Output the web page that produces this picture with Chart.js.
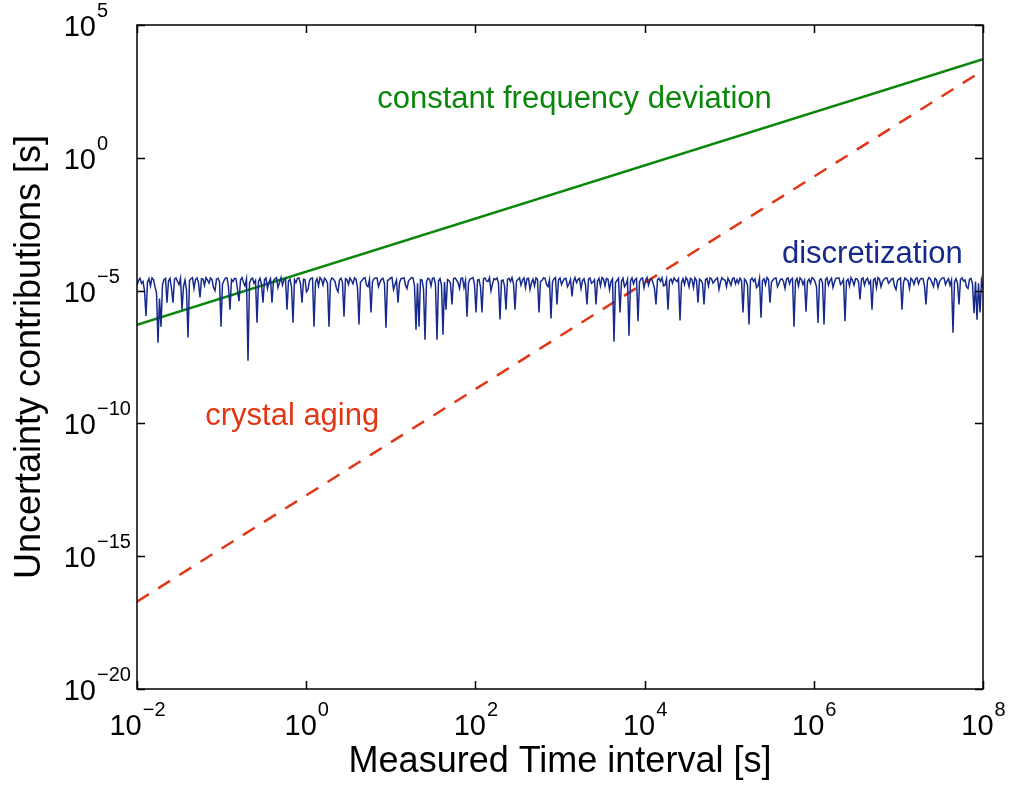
<!DOCTYPE html>
<html>
<head>
<meta charset="utf-8">
<script src="https://cdn.jsdelivr.net/npm/chart.js@4.4.0/dist/chart.umd.min.js"></script>
<style>
  html, body { margin: 0; padding: 0; background: #fff; }
</style>
</head>
<body>
<canvas id="chart" width="1010" height="787"></canvas>
<script>
// axis ranges and tick exponents
const xRange = [1e-2, 1e8];
const yRange = [1e-20, 1e5];
const xTickExps = [-2, 0, 2, 4, 6, 8];
const yTickExps = [-20, -15, -10, -5, 0, 5];

// constant frequency deviation (slope 1 in log-log)
const freqDevX = [1e-2, 1e8];
const freqDevY = [5.2e-7, 5.2e3];

// crystal aging (slope 2 in log-log)
const agingX = [1e-2, 1e8];
const agingY = [1.95e-17, 1.95e3];

// discretization error in units of 1e-5 s, samples evenly spaced in log(time)
const discUnit = 1e-5;
const discretization = [
  1.6, 2.4, 2.9, 1.9, 2.2, 1.0, 0.11, 2.1, 2.8, 1.5, 3.0, 2.6, 1.4, 0.8, 0.011, 0.5, 0.044, 1.7, 2.6, 2.9,
  0.35, 2.3, 2.9, 1.2, 0.35, 2.7, 3.0, 2.2, 1.7, 2.9, 0.19, 1.4, 2.5, 1.1, 0.017, 2.4, 2.8, 3.1, 1.2, 2.6,
  3.0, 2.0, 0.55, 2.8, 2.7, 1.6, 3.1, 2.5, 1.9, 3.0, 2.6, 1.3, 1.0, 2.7, 2.9, 2.2, 0.044, 1.8, 2.4, 3.0,
  3.0, 1.4, 0.19, 2.6, 2.2, 2.9, 2.8, 1.1, 0.4, 2.5, 3.1, 2.0, 1.5, 2.7, 0.0023, 1.9, 2.7, 3.0, 1.9, 2.4,
  0.062, 2.2, 2.9, 1.7, 0.35, 2.6, 3.0, 1.2, 2.1, 2.8, 0.35, 2.4, 2.8, 3.1, 1.3, 2.0, 3.1, 1.6, 2.5, 2.9,
  0.19, 2.3, 2.7, 1.4, 0.062, 2.6, 2.0, 2.9, 3.0, 1.8, 0.35, 2.7, 2.6, 0.9, 1.1, 2.4, 2.9, 3.0, 0.044, 2.1,
  2.8, 1.5, 3.1, 2.6, 1.6, 2.9, 2.5, 1.9, 0.044, 2.3, 3.0, 2.7, 2.2, 1.2, 0.9, 2.5, 2.9, 2.0, 0.105, 2.8,
  2.6, 1.7, 3.0, 2.4, 1.8, 3.0, 2.7, 1.3, 0.053, 2.1, 2.4, 2.9, 3.1, 1.6, 1.4, 2.6, 0.15, 2.2, 2.8, 3.0,
  3.0, 1.4, 2.1, 2.7, 2.9, 1.8, 0.04, 2.4, 2.6, 3.0, 3.1, 1.1, 1.7, 2.5, 0.35, 2.0, 2.8, 2.9, 3.0, 1.6,
  1.2, 2.3, 2.7, 3.1, 3.0, 1.5, 0.034, 1.9, 0.044, 2.6, 2.5, 1.2, 0.014, 2.2, 2.9, 2.7, 1.5, 2.9, 3.0, 1.7,
  0.014, 2.3, 2.8, 1.6, 0.022, 2.1, 0.19, 2.6, 2.4, 1.9, 0.3, 2.8, 3.0, 2.5, 2.0, 1.2, 2.9, 3.0, 1.3, 2.4,
  0.105, 2.0, 2.7, 2.9, 3.1, 1.7, 0.15, 2.5, 2.6, 1.4, 0.15, 2.8, 3.0, 2.3, 2.2, 3.1, 1.0, 1.8, 2.8, 2.6,
  3.0, 1.9, 0.081, 2.4, 2.5, 1.5, 0.19, 2.7, 2.9, 2.2, 3.1, 1.8, 0.19, 2.3, 2.6, 3.0, 1.6, 2.5, 3.0, 1.3,
  2.8, 2.9, 1.1, 2.0, 2.7, 1.5, 3.0, 2.6, 0.15, 2.2, 2.4, 3.0, 2.9, 1.7, 1.4, 2.5, 0.09, 2.1, 2.8, 3.1,
  0.3, 2.5, 3.0, 1.7, 2.3, 2.8, 2.9, 1.4, 1.8, 2.6, 0.6, 2.2, 3.1, 2.0, 2.6, 2.9, 1.2, 2.4, 2.8, 1.6,
  0.3, 2.7, 3.0, 1.9, 2.1, 2.6, 0.3, 2.3, 2.9, 1.5, 3.1, 2.7, 1.5, 2.9, 2.7, 1.1, 2.2, 2.8, 0.012, 2.0,
  2.4, 2.9, 0.15, 2.2, 2.9, 1.4, 1.7, 2.6, 0.02, 2.3, 3.0, 1.8, 2.6, 2.9, 0.07, 2.1, 2.8, 3.0, 1.3, 2.4,
  3.1, 1.6, 2.5, 2.8, 2.0, 1.2, 0.3, 2.6, 2.9, 2.2, 3.0, 1.5, 1.6, 2.7, 0.19, 2.4, 2.7, 1.9, 3.0, 2.5,
  2.2, 2.8, 0.075, 2.0, 2.8, 1.7, 3.1, 2.5, 1.4, 2.9, 2.6, 1.3, 3.0, 2.4, 0.35, 2.7, 2.4, 1.9, 0.3, 2.6,
  2.9, 1.5, 3.0, 2.8, 1.9, 2.3, 2.7, 3.0, 1.1, 2.1, 3.1, 2.6, 2.5, 1.4, 2.9, 2.2, 1.6, 2.8, 3.0, 1.8,
  2.6, 1.9, 2.9, 2.4, 0.15, 2.7, 2.3, 1.6, 0.053, 2.5, 3.0, 2.2, 2.7, 1.3, 1.5, 2.9, 0.095, 2.4, 2.8, 1.7,
  3.1, 2.6, 0.35, 2.1, 2.5, 2.9, 3.0, 1.4, 1.9, 2.6, 2.8, 2.2, 1.2, 2.7, 3.0, 1.8, 2.6, 2.9, 0.044, 2.3,
  2.9, 1.5, 3.0, 2.6, 1.7, 2.4, 0.16, 2.2, 2.7, 1.9, 3.1, 2.8, 2.2, 1.4, 0.06, 2.5, 2.8, 2.0, 0.053, 2.6,
  3.0, 1.6, 2.4, 2.9, 1.3, 2.1, 2.9, 3.0, 3.0, 1.7, 2.0, 2.6, 0.07, 2.3, 2.7, 1.5, 3.1, 2.4, 1.6, 2.8,
  2.8, 2.1, 0.46, 2.7, 3.0, 1.6, 2.5, 2.9, 1.8, 2.3, 0.19, 2.5, 2.9, 1.3, 3.1, 2.7, 1.4, 2.2, 2.6, 3.0,
  3.0, 1.9, 2.2, 2.7, 2.9, 1.5, 1.1, 2.4, 2.7, 3.0, 0.19, 2.0, 3.0, 2.6, 2.4, 1.2, 2.9, 2.5, 1.7, 2.8,
  3.0, 1.8, 2.6, 2.9, 2.8, 1.5, 0.3, 2.4, 3.1, 2.7, 2.0, 1.4, 2.9, 2.6, 1.3, 2.2, 2.7, 3.0, 3.0, 1.7,
  2.3, 2.8, 1.6, 2.5, 0.026, 2.1, 2.8, 1.9, 0.3, 2.6, 3.0, 2.3, 2.5, 1.4, 1.2, 2.7, 2.9, 1.8, 0.14, 2.2,
  0.08, 1.9, 0.15, 2.4, 1.2
];

// label positions in data coordinates
const labelFreqDev = { x: 6.9, y: 75, text: 'constant frequency deviation' };
const labelDisc = { x: 4.2e5, y: 1.1e-4, text: 'discretization' };
const labelAging = { x: 0.064, y: 8.7e-11, text: 'crystal aging' };

const green = '#0a870a';
const blue = '#172a8c';
const red = '#e23614';
const FONT = '"Liberation Sans", Arial, sans-serif';

const lastIdx = discretization.length - 1;
const logMin = Math.log10(xRange[0]), logMax = Math.log10(xRange[1]);
const discPoints = discretization.map((v, i) => ({
  x: Math.pow(10, logMin + (logMax - logMin) * i / lastIdx),
  y: v * discUnit
}));

function toPoints(xs, ys) {
  return xs.map((x, i) => ({ x: x, y: ys[i] }));
}

function drawPow(ctx, exp, x, y, align) {
  const baseFont = '29px ' + FONT;
  const expFont = '20px ' + FONT;
  const expText = exp < 0 ? '\u2212' + Math.abs(exp) : String(exp);
  ctx.font = baseFont;
  const wb = ctx.measureText('10').width;
  ctx.font = expFont;
  const we = ctx.measureText(expText).width;
  // x ticks: centred; y ticks: "10" right edge fixed, exponent sticks out
  const left = align === 'center' ? x - (wb + we) / 2 : x - wb;
  ctx.textAlign = 'left';
  ctx.textBaseline = 'alphabetic';
  ctx.font = baseFont;
  ctx.fillText('10', left, y);
  ctx.font = expFont;
  ctx.fillText(expText, left + wb + 1, y - 19);
}

const axesFrame = {
  id: 'axesFrame',
  afterDraw(chart) {
    const { ctx, chartArea: a, scales } = chart;
    const sx = scales.x, sy = scales.y;
    ctx.save();
    ctx.strokeStyle = '#000';
    ctx.fillStyle = '#000';
    ctx.lineWidth = 1.5;
    ctx.strokeRect(a.left, a.top, a.right - a.left, a.bottom - a.top);

    const tl = 8;
    ctx.beginPath();
    xTickExps.forEach(e => {
      const px = Math.round(sx.getPixelForValue(Math.pow(10, e))) + 0.5;
      ctx.moveTo(px, a.bottom); ctx.lineTo(px, a.bottom - tl);
      ctx.moveTo(px, a.top); ctx.lineTo(px, a.top + tl);
    });
    yTickExps.forEach(e => {
      const py = Math.round(sy.getPixelForValue(Math.pow(10, e))) + 0.5;
      ctx.moveTo(a.left, py); ctx.lineTo(a.left + tl, py);
      ctx.moveTo(a.right, py); ctx.lineTo(a.right - tl, py);
    });
    ctx.stroke();

    xTickExps.forEach(e => {
      drawPow(ctx, e, sx.getPixelForValue(Math.pow(10, e)), a.bottom + 46, 'center');
    });
    yTickExps.forEach(e => {
      drawPow(ctx, e, a.left - 41, sy.getPixelForValue(Math.pow(10, e)) + 11, 'right');
    });

    // axis titles
    ctx.font = '36px ' + FONT;
    ctx.textAlign = 'center';
    ctx.textBaseline = 'alphabetic';
    ctx.fillText('Measured Time interval [s]', (a.left + a.right) / 2, a.bottom + 83);
    ctx.save();
    ctx.translate(a.left - 97, (a.top + a.bottom) / 2);
    ctx.rotate(-Math.PI / 2);
    ctx.fillText('Uncertainty contributions [s]', 0, 0);
    ctx.restore();

    // series labels
    ctx.font = '31px ' + FONT;
    ctx.textAlign = 'left';
    [[labelFreqDev, green], [labelDisc, blue], [labelAging, red]].forEach(([l, c]) => {
      ctx.fillStyle = c;
      ctx.fillText(l.text, sx.getPixelForValue(l.x), sy.getPixelForValue(l.y));
    });
    ctx.restore();
  }
};

new Chart(document.getElementById('chart'), {
  type: 'line',
  data: {
    datasets: [
      {
        label: 'discretization',
        data: discPoints,
        borderColor: blue,
        borderWidth: 1.5,
        pointRadius: 0,
        tension: 0
      },
      {
        label: 'constant frequency deviation',
        data: toPoints(freqDevX, freqDevY),
        borderColor: green,
        borderWidth: 2.5,
        pointRadius: 0
      },
      {
        label: 'crystal aging',
        data: toPoints(agingX, agingY),
        borderColor: red,
        borderWidth: 2.5,
        borderDash: [14, 11],
        pointRadius: 0
      }
    ]
  },
  options: {
    responsive: false,
    animation: false,
    devicePixelRatio: 1,
    layout: { padding: { left: 137, right: 27, top: 25, bottom: 98 } },
    plugins: {
      legend: { display: false },
      tooltip: { enabled: false }
    },
    scales: {
      x: {
        type: 'logarithmic',
        min: xRange[0],
        max: xRange[1],
        display: false
      },
      y: {
        type: 'logarithmic',
        min: yRange[0],
        max: yRange[1],
        display: false
      }
    }
  },
  plugins: [axesFrame]
});
</script>
</body>
</html>
